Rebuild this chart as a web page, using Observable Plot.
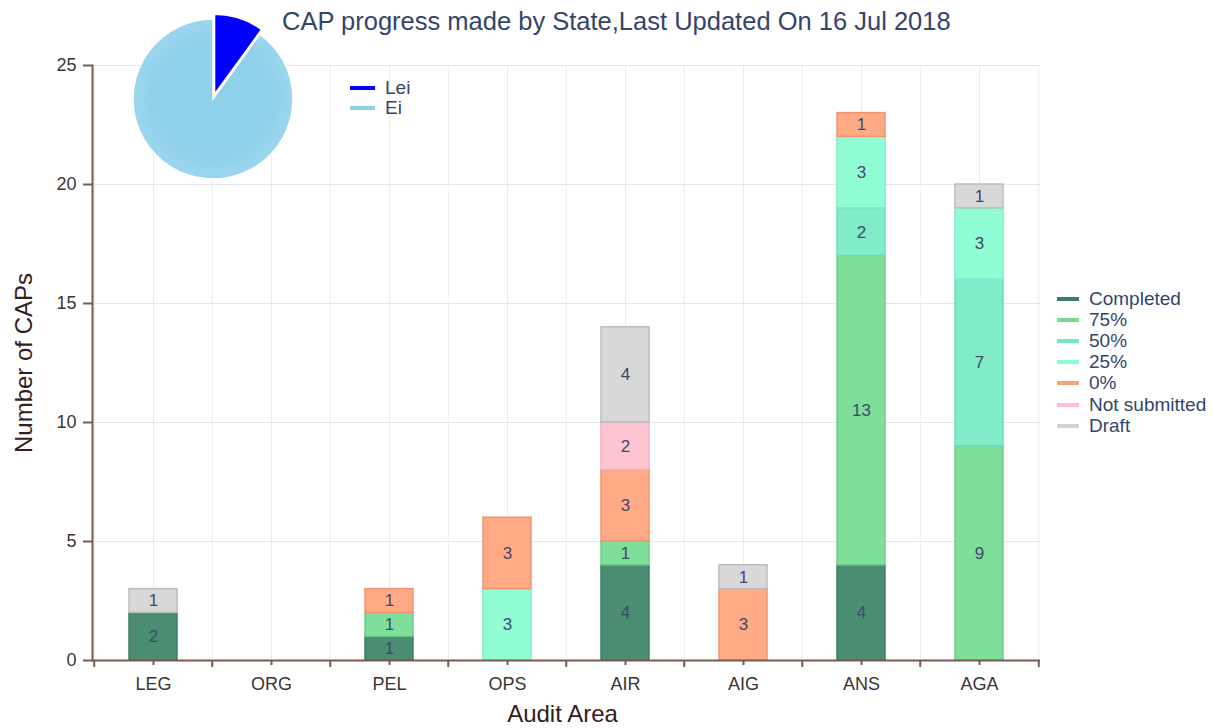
<!DOCTYPE html>
<html>
<head>
<meta charset="utf-8">
<script src="https://cdn.jsdelivr.net/npm/d3@7"></script>
<script src="https://cdn.jsdelivr.net/npm/@observablehq/plot@0.6"></script>
<style>
  body { margin: 0; background: #fff; font-family: "Liberation Sans", Arial, sans-serif; }
  #wrap { position: relative; width: 1213px; height: 728px; overflow: hidden; }
  #title { position: absolute; left: 282px; top: 7px; font-size: 25.5px; color: #34456b; white-space: nowrap; }
  #pie { position: absolute; left: 0; top: 0; }
  .leg { position: absolute; font-size: 19px; color: #34456b; white-space: nowrap; }
  .leg div { height: 21.2px; display: flex; align-items: center; }
  .leg span.sw { display: inline-block; width: 22px; height: 4px; margin-right: 10px; }
  #plot { position: absolute; left: 0; top: 0; }
</style>
</head>
<body>
<div id="wrap">
  <div id="plot"></div>
  <div id="pie"></div>
  <div id="title">CAP progress made by State,Last Updated On 16 Jul 2018</div>
  <div class="leg" id="pieLegend" style="left:350px; top:78px;"></div>
  <div class="leg" id="legend" style="left:1057px; top:288px;"></div>
</div>
<script>
// ---- data ----
const areas = ["LEG", "ORG", "PEL", "OPS", "AIR", "AIG", "ANS", "AGA"];
const statuses = ["Completed", "75%", "50%", "25%", "0%", "Not submitted", "Draft"];
const statusFill = ["#4b8d73", "#7fde9a", "#80ecca", "#90fdd4", "#ffa985", "#ffc4d1", "#d8d8d8"];
const statusStroke = ["#3f7e64", "#6fcf89", "#6fdcb9", "#7fecc3", "#f09473", "#f0b0bf", "#bdbdbd"];
const legendColor = ["#3f7e64", "#74d88d", "#74e9c5", "#88fbd0", "#ff9f76", "#ffc0cb", "#d3d3d3"];
// counts per status (rows) for each area (columns)
const completed    = [2, 0, 1, 0, 4, 0, 4, 0];
const pct75        = [0, 0, 1, 0, 1, 0, 13, 9];
const pct50        = [0, 0, 0, 0, 0, 0, 2, 7];
const pct25        = [0, 0, 0, 3, 0, 0, 3, 3];
const pct0         = [0, 0, 1, 3, 3, 3, 1, 0];
const notSubmitted = [0, 0, 0, 0, 2, 0, 0, 0];
const draft        = [1, 0, 0, 0, 4, 1, 0, 1];
const yTicks = [0, 5, 10, 15, 20, 25];
const pieLabels = ["Lei", "Ei"];
const pieValues = [10, 90];
const pieColors = ["#0000ff", "#8fd0ea"];

const series = [completed, pct75, pct50, pct25, pct0, notSubmitted, draft];
const rows = [];
statuses.forEach((s, si) => areas.forEach((a, ai) => {
  if (series[si][ai] > 0) rows.push({area: a, status: s, value: series[si][ai]});
}));

const W = 1213, H = 728, ML = 92, MR = 173, MT = 65, MB = 68;
const step = (W - ML - MR) / areas.length;
const brown = "#7b5a4e";

const chart = Plot.plot({
  width: W, height: H,
  marginLeft: ML, marginRight: MR, marginTop: MT, marginBottom: MB,
  style: {fontFamily: "Liberation Sans, Arial, sans-serif", fontSize: "17px", color: "#3b3535", background: "transparent"},
  x: {domain: areas, padding: 0, label: null},
  y: {domain: [0, 25], label: null},
  color: {domain: statuses, range: statusFill},
  marks: [
    Plot.ruleY(yTicks.slice(1), {stroke: "#e3e6ee", strokeWidth: 1.2}),
    Plot.ruleX(areas, {x: d => d, stroke: "#ececf0", strokeWidth: 1}),
    Plot.ruleX(areas, {x: d => d, dx: -step / 2, stroke: "#ececf0", strokeWidth: 1}),
    Plot.ruleX([areas[areas.length - 1]], {x: d => d, dx: step / 2, stroke: "#ececf0", strokeWidth: 1}),
    Plot.barY(rows, Plot.stackY({
      x: "area", y: "value", z: "status", order: statuses,
      fill: "status",
      stroke: d => statusStroke[statuses.indexOf(d.status)],
      strokeWidth: 1.5,
      insetLeft: 35, insetRight: 35
    })),
    Plot.text(rows, Plot.stackY({
      x: "area", y: "value", z: "status", order: statuses,
      text: d => String(d.value), fill: "#3d4a6e", fontSize: 17
    })),
    // axis lines
    Plot.ruleY([0], {stroke: brown, strokeWidth: 2}),
    Plot.frame({anchor: "left", stroke: brown, strokeWidth: 2}),
    // boundary ticks on x axis
    Plot.ruleX(areas, {x: d => d, dx: -step / 2, y1: 0, y2: 0, insetBottom: -7, stroke: brown, strokeWidth: 2}),
    Plot.ruleX([areas[areas.length - 1]], {x: d => d, dx: step / 2, y1: 0, y2: 0, insetBottom: -7, stroke: brown, strokeWidth: 2}),
    Plot.axisX({tickSize: 5, stroke: brown, strokeWidth: 2, tickPadding: 12, label: null, fill: "#3b3535", fontSize: 18}),
    Plot.axisY({ticks: yTicks, tickSize: 9, stroke: brown, strokeWidth: 2, tickPadding: 7, label: null, fill: "#3b3535", fontSize: 18}),
    Plot.text(["Number of CAPs"], {frameAnchor: "left", textAnchor: "middle", text: d => d, rotate: -90, dx: -68, fontSize: 24, fill: "#33201a"}),
    Plot.text(["Audit Area"], {frameAnchor: "bottom", text: d => d, dy: 61, dx: -4, fontSize: 24, fill: "#33201a"})
  ]
});
document.getElementById("plot").appendChild(chart);

// ---- pie ----
const cx = 213, cy = 99, r = 80;
const svg = d3.select("#pie").append("svg").attr("width", 420).attr("height", 200);
const arcs = d3.pie().sort(null).value(d => d)(pieValues);
const arc = d3.arc().innerRadius(0).outerRadius(r);
const defs = svg.append("defs");
const g = defs.append("radialGradient").attr("id", "pieGrad");
g.append("stop").attr("offset", "70%").attr("stop-color", pieColors[1]);
g.append("stop").attr("offset", "100%").attr("stop-color", "#9cd6ee");
svg.selectAll("path").data(arcs).join("path")
  .attr("d", arc)
  .attr("transform", (d, i) => {
    const off = i === 0 ? 5 : 0;
    const a = (d.startAngle + d.endAngle) / 2;
    return `translate(${cx + off * Math.sin(a)},${cy - off * Math.cos(a)})`;
  })
  .attr("fill", (d, i) => i === 0 ? pieColors[0] : "url(#pieGrad)")
  .attr("stroke", "#fff").attr("stroke-width", 1.5);

// ---- legends ----
const pl = document.getElementById("pieLegend");
pieLabels.forEach((l, i) => {
  pl.insertAdjacentHTML("beforeend", `<div style="height:20px"><span class="sw" style="background:${pieColors[i]};width:25px;margin-right:10px"></span>${l}</div>`);
});
const lg = document.getElementById("legend");
statuses.forEach((s, i) => {
  lg.insertAdjacentHTML("beforeend", `<div><span class="sw" style="background:${legendColor[i]}"></span>${s}</div>`);
});
</script>
</body>
</html>
